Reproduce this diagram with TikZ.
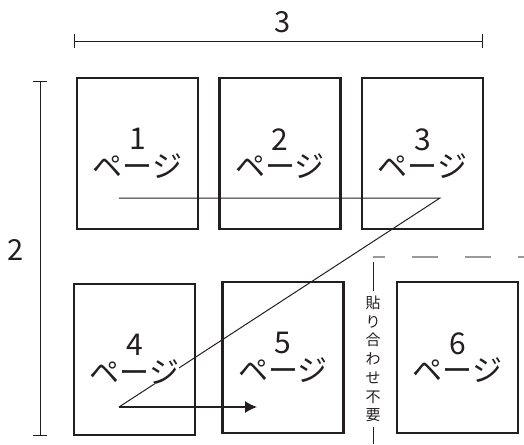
\documentclass[tikz,border=0pt]{standalone}
\usepackage{fontspec}
\setmainfont{Noto Sans CJK JP}
\usetikzlibrary{arrows.meta}
\definecolor{ink}{HTML}{231F20}

\begin{document}
\begin{tikzpicture}
	[x=1pt,y=-1pt,
	every node/.style={inner sep=0pt,text=ink},
	sheet/.style={draw=ink,line width=2.5pt,minimum width=121pt,minimum height=151pt},
	pagelabel/.style={fill=white,align=center,font=\fontsize{30}{27.5}\selectfont},
	dimtext/.style={font=\fontsize{29}{27}\selectfont},
	dimline/.style={draw=ink,line width=0.9pt,{Bar[width=14pt]}-{Bar[width=14pt]}}]
	\useasboundingbox (0,0) rectangle (524,444);
	% pages
	\node[sheet] (p1) at (137.5,153.5) {};
	\node[sheet] (p2) at (280,153.5) {};
	\node[sheet] (p3) at (422.5,153.5) {};
	\node[sheet] (p4) at (134.5,359.5) {};
	\node[sheet] (p5) at (283,357.5) {};
	\node[sheet] (p6) at (457.5,357.5) {};
	% order of pages
	\coordinate (a) at (119,198);
	\coordinate (b) at (440,198);
	\coordinate (c) at (119,407);
	\coordinate (d) at (257,407);
	\draw [ink,line width=1pt] (a) -- (b) -- (c);
	\draw [ink,line width=1.4pt,-{Latex[length=12pt,width=12pt]}] (c) -- (d);
	\node[pagelabel] (l1) at (p1) {1\\ページ};
	\node[pagelabel] (l2) at (p2) {2\\ページ};
	\node[pagelabel] (l3) at (p3) {3\\ページ};
	\node[pagelabel] (l4) at (p4) {4\\ページ};
	\node[pagelabel] (l5) at (p5) {5\\ページ};
	\node[pagelabel] (l6) at (p6) {6\\ページ};
	% dimensions
	\coordinate (w0) at (74,41);
	\coordinate (w1) at (483,41);
	\node[dimtext] (wlabel) at (283,22) {3};
	\draw [dimline] (w0) -- (w1);
	\coordinate (h0) at (40,81);
	\coordinate (h1) at (40,436);
	\node[dimtext] (hlabel) at (16,250) {2};
	\draw [dimline] (h0) -- (h1);
	% no gluing
	\coordinate (cut) at (373,257);
	\coordinate (cutend) at (524,257);
	\draw [gray!80,line width=1.2pt,dash pattern=on 26pt off 27pt,dash phase=14pt] (cut) -- (cutend);
	\node[inner ysep=5pt,align=center,font=\fontsize{15}{18.7}\selectfont] (glue) at (373,359) {貼\\り\\合\\わ\\せ\\不\\要};
	\coordinate (gtop) at (373,262);
	\coordinate (gbot) at (373,444);
	\draw [ink,line width=0.9pt] (gtop) -- (glue.north);
	\draw [ink,line width=0.9pt] (glue.south) -- (gbot);
\end{tikzpicture}
\end{document}
